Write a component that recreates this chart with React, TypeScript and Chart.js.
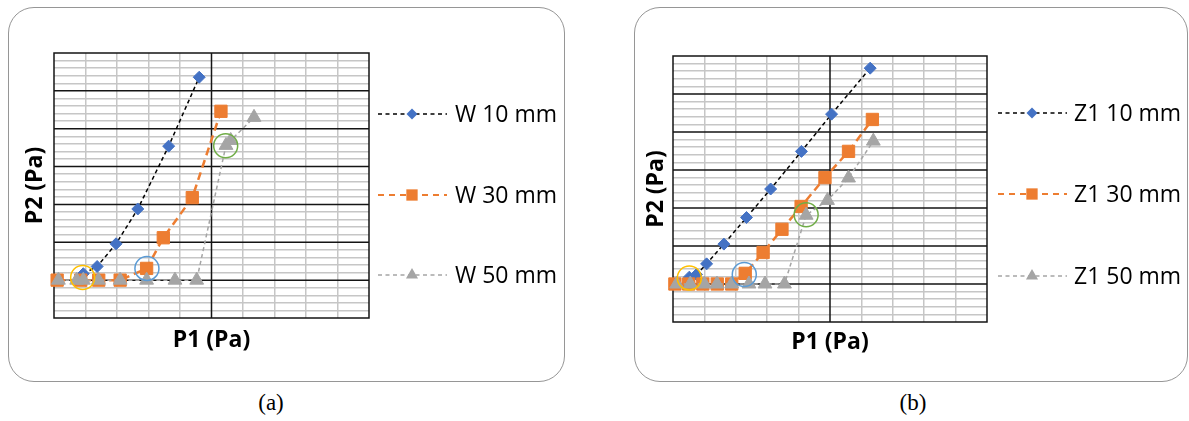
import React, { useEffect, useRef } from "react";
import { Chart, registerables } from "chart.js";

Chart.register(...registerables);

// ---------- axes (no tick labels in the original) ----------
const X_MIN = 0;
const X_MAX = 100;
const X_MINOR = 10;
const X_MAJOR = 50;
const Y_MIN = 0;
const Y_MAX = 70;
const Y_MINOR = 2;
const Y_MAJOR = 10;
const X_TITLE = "P1 (Pa)";
const Y_TITLE = "P2 (Pa)";

// ---------- panel (a) ----------
const A_CAPTION = "(a)";
const A_LABELS = ["W 10 mm", "W 30 mm", "W 50 mm"];
const A_W10_X = [9.3, 13.7, 19.7, 26.6, 36.4, 46.1];
const A_W10_Y = [11.7, 13.6, 19.6, 28.8, 45.4, 63.6];
const A_W30_X = [1.0, 8.5, 14.2, 21.0, 29.4, 34.7, 43.9, 53.0];
const A_W30_Y = [10, 10, 10, 10, 13.1, 21.2, 31.8, 54.6];
const A_W50_X = [1.4, 7.2, 9.3, 14.1, 21.0, 29.4, 38.4, 45.3, 54.6, 56.1, 63.5];
const A_W50_Y = [10, 10, 10, 10, 10, 10, 10, 10, 45.6, 46.9, 53.0];
const A_CIRCLE_X = [9.1, 29.5, 54.5];
const A_CIRCLE_Y = [10.7, 13.1, 45.5];

// ---------- panel (b) ----------
const B_CAPTION = "(b)";
const B_LABELS = ["Z1 10 mm", "Z1 30 mm", "Z1 50 mm"];
const B_Z10_X = [5.2, 7.5, 10.7, 16.2, 23.4, 31.1, 40.9, 50.5, 62.8];
const B_Z10_Y = [11.8, 12.5, 15.3, 20.5, 27.5, 35.0, 44.9, 54.7, 66.8];
const B_Z30_X = [0.6, 5.0, 9.5, 14.1, 18.7, 23.0, 28.7, 34.7, 40.8, 48.4, 55.9, 63.5];
const B_Z30_Y = [10, 10, 10, 10, 10, 12.8, 18.3, 24.4, 30.4, 38.0, 44.9, 53.3];
const B_Z50_X = [1.2, 5.5, 10.0, 14.0, 18.7, 24.2, 29.3, 35.5, 42.4, 49.2, 55.9, 63.8];
const B_Z50_Y = [10, 10, 10, 10, 10, 10, 10, 10, 28.1, 32.0, 37.9, 47.6];
const B_CIRCLE_X = [5.2, 22.7, 42.4];
const B_CIRCLE_Y = [11.6, 12.5, 28.2];

// ---------- styles ----------
const FONT = '"Open Sans", "Noto Sans", sans-serif';
const FONT_SIZE = 23;
const MINOR_COLOR = "#c6c6c6";
const MAJOR_COLOR = "#151515";
const CIRCLE_COLORS = ["#FFC000", "#5B9BD5", "#70AD47"];
const CIRCLE_RADIUS = 12;

type Shape = "diamond" | "square" | "triangle";
const SERIES_STYLE: { color: string; line: string; dash: number[]; legendDash: number[]; width: number; shape: Shape; r: number; legendR: number }[] = [
  { color: "#4472C4", line: "#000000", dash: [4, 3], legendDash: [4, 3.5], width: 1.5, shape: "diamond", r: 6, legendR: 5.5 },
  { color: "#ED7D31", line: "#ED7D31", dash: [8, 5], legendDash: [6, 5], width: 2.5, shape: "square", r: 8.7, legendR: 8 },
  { color: "#A5A5A5", line: "#A5A5A5", dash: [4, 3], legendDash: [4, 3.5], width: 1.5, shape: "triangle", r: 8, legendR: 7 },
];
const CJS_SHAPE: Record<Shape, string> = { diamond: "rectRot", square: "rect", triangle: "triangle" };

const isMajor = (v: number, major: number) => Math.abs(v / major - Math.round(v / major)) < 1e-6;

function drawMarker(ctx: CanvasRenderingContext2D, shape: Shape, x: number, y: number, r: number, color: string) {
  ctx.save();
  ctx.fillStyle = color;
  ctx.beginPath();
  if (shape === "diamond") {
    ctx.moveTo(x - r, y);
    ctx.lineTo(x, y - r);
    ctx.lineTo(x + r, y);
    ctx.lineTo(x, y + r);
  } else if (shape === "square") {
    const s = r * Math.SQRT1_2;
    ctx.rect(x - s, y - s, 2 * s, 2 * s);
  } else {
    const h = r * 0.866;
    ctx.moveTo(x, y - r);
    ctx.lineTo(x + h, y + r / 2);
    ctx.lineTo(x - h, y + r / 2);
  }
  ctx.closePath();
  ctx.fill();
  ctx.restore();
}

const majorGridPlugin = {
  id: "majorGrid",
  beforeDatasetsDraw(chart: any) {
    const { ctx, chartArea: a, scales } = chart;
    const x = scales.x;
    const y = scales.y;
    ctx.save();
    ctx.strokeStyle = MAJOR_COLOR;
    ctx.lineWidth = 1.5;
    ctx.lineCap = "square";
    ctx.beginPath();
    for (const t of x.ticks) {
      if (isMajor(t.value, X_MAJOR)) {
        const px = x.getPixelForValue(t.value);
        ctx.moveTo(px, a.top);
        ctx.lineTo(px, a.bottom);
      }
    }
    for (const t of y.ticks) {
      if (isMajor(t.value, Y_MAJOR)) {
        const py = y.getPixelForValue(t.value);
        ctx.moveTo(a.left, py);
        ctx.lineTo(a.right, py);
      }
    }
    ctx.stroke();
    ctx.restore();
  },
};

function makeCirclesPlugin(xs: number[], ys: number[]) {
  return {
    id: "circles",
    afterDatasetsDraw(chart: any) {
      const { ctx, scales } = chart;
      xs.forEach((cx, i) => {
        ctx.save();
        ctx.beginPath();
        ctx.arc(scales.x.getPixelForValue(cx), scales.y.getPixelForValue(ys[i]), CIRCLE_RADIUS, 0, Math.PI * 2);
        ctx.strokeStyle = CIRCLE_COLORS[i];
        ctx.lineWidth = 1.5;
        ctx.stroke();
        ctx.restore();
      });
    },
  };
}

type LegendPos = { lineStart: number; lineEnd: number; markerX: number; textX: number; rows: number[] };

function makeLegendPlugin(pos: LegendPos) {
  return {
    id: "sideLegend",
    afterDraw(chart: any) {
      const { ctx } = chart;
      chart.data.datasets.forEach((ds: any, i: number) => {
        const st = SERIES_STYLE[i];
        const y = pos.rows[i];
        ctx.save();
        ctx.strokeStyle = st.line;
        ctx.lineWidth = Math.min(st.width, 2);
        ctx.setLineDash(st.legendDash);
        ctx.beginPath();
        ctx.moveTo(pos.lineStart, y);
        ctx.lineTo(pos.lineEnd, y);
        ctx.stroke();
        ctx.setLineDash([]);
        ctx.restore();
        drawMarker(ctx, st.shape, pos.markerX, y, st.legendR, st.color);
        ctx.save();
        ctx.fillStyle = "#000";
        ctx.font = `${FONT_SIZE}px ${FONT}`;
        ctx.textBaseline = "alphabetic";
        ctx.fillText(ds.label, pos.textX, y + 0.357 * FONT_SIZE);
        ctx.restore();
      });
    },
  };
}

type PanelProps = {
  left: number;
  top: number;
  width: number;
  height: number;
  labels: string[];
  xs: number[][];
  ys: number[][];
  circleX: number[];
  circleY: number[];
  padTop: number;
  padRight: number;
  yScaleWidth: number;
  yTitlePad: number;
  xScaleHeight: number;
  xTitlePad: number;
  legend: LegendPos;
};

function Panel(p: PanelProps) {
  const ref = useRef<HTMLCanvasElement>(null);
  useEffect(() => {
    if (!ref.current) return;
    const datasets = p.labels.map((label, i) => {
      const st = SERIES_STYLE[i];
      return {
        label,
        data: p.xs[i].map((x, j) => ({ x, y: p.ys[i][j] })),
        borderColor: st.line,
        borderWidth: st.width,
        borderDash: st.dash,
        backgroundColor: st.color,
        pointBackgroundColor: st.color,
        pointBorderColor: st.color,
        pointBorderWidth: 1,
        pointStyle: CJS_SHAPE[st.shape],
        pointRadius: st.r,
        pointHoverRadius: st.r,
        tension: 0,
        fill: false,
        clip: false,
        order: p.labels.length - 1 - i,
      };
    });
    const gridColor = (major: number) => (ctx: any) =>
      ctx.tick && isMajor(ctx.tick.value, major) ? "rgba(0,0,0,0)" : MINOR_COLOR;
    const titleFont = { family: FONT, size: FONT_SIZE, weight: "bold" as const };
    const chart = new Chart(ref.current, {
      type: "line",
      data: { datasets: datasets as any },
      options: {
        responsive: false,
        animation: false,
        events: [],
        layout: { padding: { left: 0, top: p.padTop, right: p.padRight, bottom: 0 } },
        plugins: { legend: { display: false }, tooltip: { enabled: false } },
        scales: {
          x: {
            type: "linear",
            min: X_MIN,
            max: X_MAX,
            ticks: { display: false, stepSize: X_MINOR, autoSkip: false, maxTicksLimit: 1000 },
            grid: { color: gridColor(X_MAJOR), lineWidth: 1.5, drawTicks: false },
            border: { display: false },
            title: { display: true, text: X_TITLE, color: "#000", font: titleFont, padding: { top: 0, bottom: p.xTitlePad } },
            afterFit: (s: any) => {
              s.height = p.xScaleHeight;
            },
          },
          y: {
            type: "linear",
            min: Y_MIN,
            max: Y_MAX,
            ticks: { display: false, stepSize: Y_MINOR, autoSkip: false, maxTicksLimit: 1000 },
            grid: { color: gridColor(Y_MAJOR), lineWidth: 1.5, drawTicks: false },
            border: { display: false },
            title: { display: true, text: Y_TITLE, color: "#000", font: titleFont, padding: { top: p.yTitlePad, bottom: 0 } },
            afterFit: (s: any) => {
              s.width = p.yScaleWidth;
            },
          },
        },
      } as any,
      plugins: [majorGridPlugin, makeCirclesPlugin(p.circleX, p.circleY), makeLegendPlugin(p.legend)],
    });
    return () => chart.destroy();
  }, []);
  return (
    <>
      <div
        style={{
          position: "absolute",
          left: p.left,
          top: p.top,
          width: p.width,
          height: p.height,
          boxSizing: "border-box",
          border: "1.5px solid #969696",
          borderRadius: 26,
        }}
      />
      <canvas
        ref={ref}
        width={p.width}
        height={p.height}
        style={{ position: "absolute", left: p.left, top: p.top, width: p.width, height: p.height }}
      />
    </>
  );
}

const captionStyle = (cx: number): React.CSSProperties => ({
  position: "absolute",
  left: cx - 50,
  width: 100,
  top: 390,
  textAlign: "center",
  fontFamily: '"Liberation Serif", "Times New Roman", serif',
  fontSize: 23,
  lineHeight: "26px",
  color: "#000",
});

export default function App() {
  return (
    <div style={{ position: "absolute", left: 0, top: 0, width: 1189, height: 421, background: "#fff", overflow: "hidden" }}>
      <Panel
        left={8}
        top={7}
        width={557}
        height={375}
        labels={A_LABELS}
        xs={[A_W10_X, A_W30_X, A_W50_X]}
        ys={[A_W10_Y, A_W30_Y, A_W50_Y]}
        circleX={A_CIRCLE_X}
        circleY={A_CIRCLE_Y}
        padTop={46}
        padRight={196}
        yScaleWidth={46}
        yTitlePad={13.2}
        xScaleHeight={64}
        xTitlePad={28.2}
        legend={{ lineStart: 370, lineEnd: 439, markerX: 404, textX: 447, rows: [107, 188, 268] }}
      />
      <Panel
        left={634}
        top={7}
        width={554}
        height={375}
        labels={B_LABELS}
        xs={[B_Z10_X, B_Z30_X, B_Z50_X]}
        ys={[B_Z10_Y, B_Z30_Y, B_Z50_Y]}
        circleX={B_CIRCLE_X}
        circleY={B_CIRCLE_Y}
        padTop={49}
        padRight={201}
        yScaleWidth={39}
        yTitlePad={8.9}
        xScaleHeight={60}
        xTitlePad={25.5}
        legend={{ lineStart: 364, lineEnd: 433, markerX: 398, textX: 440, rows: [106, 187, 269] }}
      />
      <div style={captionStyle(271)}>{A_CAPTION}</div>
      <div style={captionStyle(913)}>{B_CAPTION}</div>
    </div>
  );
}
